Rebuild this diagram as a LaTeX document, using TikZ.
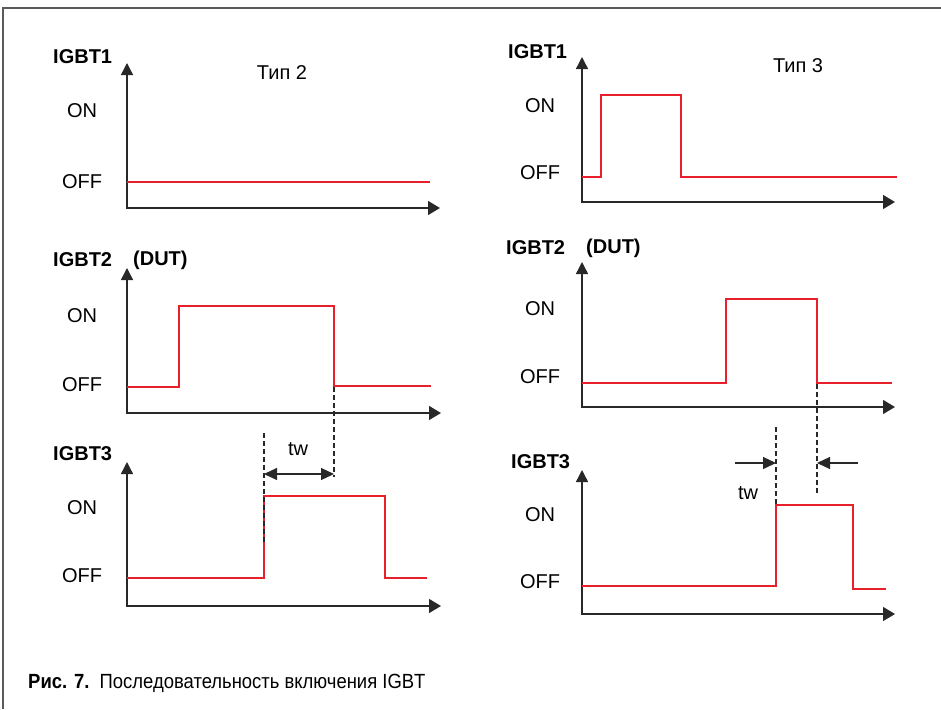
\documentclass[tikz,border=0pt]{standalone}
\usepackage{fontspec}
\setmainfont{Liberation Sans}
\newfontfamily\capfont[FakeStretch=0.9]{Liberation Sans}
\usepackage{tikz}
\usetikzlibrary{positioning, arrows.meta, calc}
\definecolor{sigRed}{RGB}{232,32,44}
\definecolor{axGray}{RGB}{40,40,40}
\definecolor{frGray}{RGB}{90,90,90}

\begin{document}
\begin{tikzpicture}[
  x=1pt, y=-1pt,
  lbl/.style={font=\fontsize{20}{24}\selectfont, inner sep=0pt},
  ttl/.style={lbl, font=\fontsize{20}{24}\selectfont\bfseries, anchor=west},
  axis/.style={axGray, line width=1.4pt,
    {Triangle[length=12pt,width=12pt]}-{Triangle[length=12pt,width=14pt]}},
  wave/.style={sigRed, line width=1.7pt},
  guide/.style={axGray, line width=1.1pt, dash pattern=on 5pt off 3pt},
  twline/.style={axGray, line width=1.2pt},
  tip/.style={-{Triangle[length=13pt,width=12pt]}},
]
  \useasboundingbox (0,0) rectangle (941,709);
  % frame
  \draw[frGray, line width=1.5pt] (3,709) -- (3,8) -- (941,8);

  % axes, left column
  \draw[axis] (127,63) -- (127,208) -- (440,208);
  \draw[axis] (127,268) -- (127,413) -- (441,413);
  \draw[axis] (127,462) -- (127,606) -- (441,606);
  % axes, right column
  \draw[axis] (582,57) -- (582,202) -- (895,202);
  \draw[axis] (582,262) -- (582,407) -- (895,407);
  \draw[axis] (582,470) -- (582,614) -- (895,614);

  % titles
  \node[ttl] (g1L) at (53,57)  {IGBT1};
  \node[ttl] (g2L) at (53,260) {IGBT2};
  \node[ttl] (dutL) at (133,260) {(DUT)};
  \node[ttl] (g3L) at (53,454) {IGBT3};
  \node[ttl] (g1R) at (508,52)  {IGBT1};
  \node[ttl] (g2R) at (506,248) {IGBT2};
  \node[ttl] (dutR) at (586,248) {(DUT)};
  \node[ttl] (g3R) at (511,462) {IGBT3};
  \node[lbl] (typ2) at (282,73) {Тип 2};
  \node[lbl] (typ3) at (798,66) {Тип 3};

  % levels
  \node[lbl] (on1L)  at (82,111) {ON};
  \node[lbl] (off1L) at (82,182) {OFF};
  \node[lbl] (on2L)  at (82,316) {ON};
  \node[lbl] (off2L) at (82,385) {OFF};
  \node[lbl] (on3L)  at (82,508) {ON};
  \node[lbl] (off3L) at (82,576) {OFF};
  \node[lbl] (on1R)  at (540,106) {ON};
  \node[lbl] (off1R) at (540,173) {OFF};
  \node[lbl] (on2R)  at (540,309) {ON};
  \node[lbl] (off2R) at (540,377) {OFF};
  \node[lbl] (on3R)  at (540,515) {ON};
  \node[lbl] (off3R) at (540,582) {OFF};

  % waveforms
  \draw[wave] (127,182) -- (430,182);
  \draw[wave] (127,387) -| (179,306) -| (334,386) -- (431,386);
  \draw[wave] (127,578) -| (264,496) -| (385,578) -- (427,578);
  \draw[wave] (582,177) -| (601,95) -| (681,177) -- (897,177);
  \draw[wave] (582,383) -| (726,299) -| (817,383) -- (892,383);
  \draw[wave] (582,586) -| (776,505) -| (853,589) -- (886,589);

  % dead time, Тип 2
  \coordinate (offL) at (334,474);
  \coordinate (onL)  at (264,474);
  \draw[guide] (334,387) -- (334,477);
  \draw[guide] (264,433) -- (264,545);
  \draw[twline, {Triangle[length=13pt,width=12pt]}-{Triangle[length=13pt,width=12pt]}]
    (onL) -- (offL);
  \node[lbl] (twL) at (298,449) {tw};

  % dead time, Тип 3
  \coordinate (offR) at (817,463);
  \coordinate (onR)  at (776,463);
  \draw[guide] (817,384) -- (817,493);
  \draw[guide] (776,427) -- (776,505);
  \draw[twline, tip] ($(onR)+(-41,0)$) -- (onR);
  \draw[twline, tip] ($(offR)+(41,0)$) -- (offR);
  \node[lbl] (twR) at (748,493) {tw};

  % caption
  \node[anchor=west, inner sep=0pt, font=\capfont\fontsize{20.5}{24}\selectfont]
    (cap) at (28,683) {\textbf{Рис.\,\,7.}\, Последовательность включения IGBT};
\end{tikzpicture}
\end{document}
